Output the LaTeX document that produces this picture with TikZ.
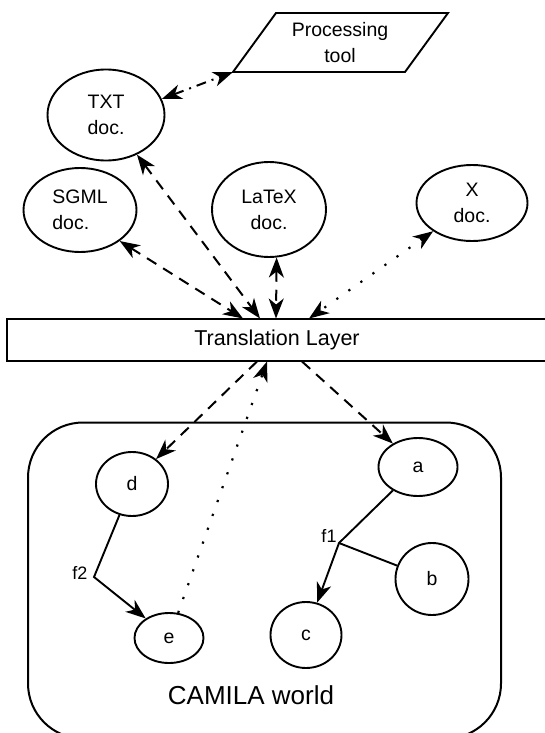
\documentclass[tikz,border=0pt]{standalone}
\usepackage{fontspec}
\setmainfont{Liberation Sans}
\usetikzlibrary{shapes.geometric,arrows.meta}
\newcommand\mainsz{\fontsize{19.5}{26}\selectfont}
\newcommand\laysz{\fontsize{21.5}{26}\selectfont}
\newcommand\worldsz{\fontsize{26}{30}\selectfont}
\newcommand\lblsz{\fontsize{18}{22}\selectfont}
\begin{document}
\begin{tikzpicture}[x=1pt,y=-1pt,
  >={Stealth[length=20pt,width=15pt,inset=6pt]},
  docnode/.style={ellipse,draw,line width=1.9pt,inner sep=0pt,align=center,font=\mainsz},
  dashline/.style={line width=2pt,dash pattern=on 11pt off 8pt},
  dotline/.style={line width=2.2pt,dash pattern=on 2.2pt off 12.5pt},
  dashdotline/.style={line width=2pt,dash pattern=on 10pt off 6pt on 2pt off 6pt},
  solidline/.style={line width=1.9pt},
  lbl/.style={font=\lblsz,inner sep=0pt}]
\useasboundingbox (0,0) rectangle (545,733);
% processing tool
\draw[line width=1.9pt] (233,72) -- (405,72) -- (448,13) -- (276,13) -- cycle;
\node[font=\mainsz,align=center,inner sep=0pt] (proc) at (340,42.5) {Processing\\tool};
\coordinate (pc) at (233,72);
% documents
\node[docnode,minimum width=117pt,minimum height=91pt] (txt) at (106,115) {TXT\\doc.};
\node[docnode,align=left,minimum width=113pt,minimum height=84pt] (sgml) at (80,210) {SGML\\doc.};
\node[docnode,minimum width=114pt,minimum height=95pt] (latex) at (269,209.5) {LaTeX\\doc.};
\node[docnode,minimum width=111pt,minimum height=76pt] (xdoc) at (472,203) {X\\doc.};
% translation layer
\node[draw,line width=2pt,minimum width=540pt,minimum height=42pt,inner sep=0pt,font=\laysz] (layer) at (277,340) {Translation Layer};
\coordinate (lt1) at (243,318.5);
\coordinate (lt2) at (260,318.5);
\coordinate (lt3) at (276,318.5);
\coordinate (lt4) at (309,318.5);
\coordinate (lb1) at (257,361.5);
\coordinate (lb2) at (267,361.5);
\coordinate (lb3) at (302,361.5);
% CAMILA world
\node[draw,rounded corners=55pt,line width=2pt,minimum width=473pt,minimum height=316pt,inner sep=0pt] (world) at (264.5,580.5) {};
\node[font=\worldsz,inner sep=0pt] (wlabel) at (251,695) {CAMILA world};
% inner nodes
\node[docnode,minimum width=72pt,minimum height=64pt] (d) at (132,484) {d};
\node[docnode,minimum width=79pt,minimum height=58pt] (a) at (418,467) {a};
\node[docnode,minimum width=73pt,minimum height=72pt] (b) at (432,579) {b};
\node[docnode,minimum width=71pt,minimum height=66pt] (c) at (306,635) {c};
\node[docnode,minimum width=69pt,minimum height=50pt] (e) at (169,638) {e};
\coordinate (f1j) at (339,543);
\coordinate (f2j) at (94,577);
\node[lbl] (f1) at (329,536) {f1};
\node[lbl] (f2) at (80,573) {f2};
% connectors
\draw[dashdotline,<->] (txt.16.6) -- (pc);
\draw[dashline,<->] (txt.-52.7) -- (lt2);
\draw[dashline,<->] (sgml.-38) -- (lt1);
\draw[dashline,<->] (latex.-81.6) -- (lt3);
\draw[dotline,<->] (xdoc.216.9) -- (lt4);
\draw[dashline,->] (lb1) -- (d.46);
\draw[dashline,->] (lb3) -- (a.137);
\draw[dotline,->] (e.70) -- (lb2);
\draw[solidline,->] (d.248) -- (f2j) -- (e.140);
\draw[solidline,->] (a.223) -- (f1j) -- (c.71.6);
\draw[solidline] (f1j) -- (b.159);
\end{tikzpicture}
\end{document}
